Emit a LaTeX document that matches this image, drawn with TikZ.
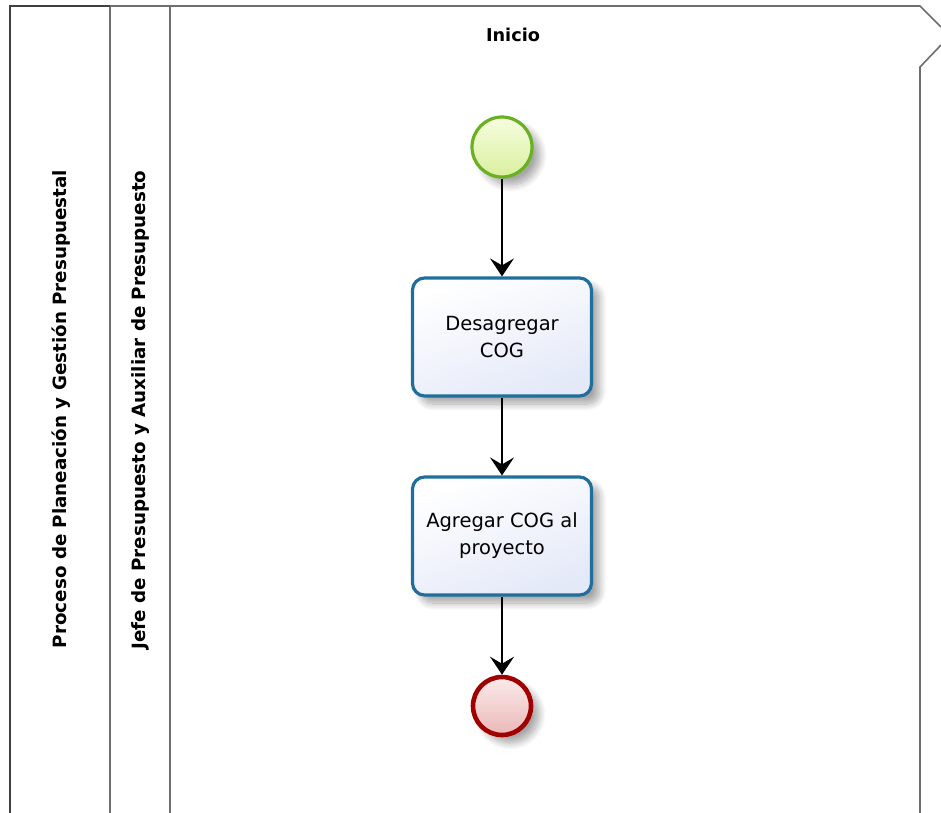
\documentclass[tikz,border=0pt]{standalone}
\usepackage{fontspec}
\setmainfont{DejaVu Sans}
\usetikzlibrary{shadows.blur,arrows.meta}

\definecolor{poolline}{HTML}{6E6E6E}
\definecolor{taskborder}{HTML}{1F6E9C}
\definecolor{taskfillA}{HTML}{FFFFFF}
\definecolor{taskfillB}{HTML}{E4E9F8}
\definecolor{startborder}{HTML}{6AB023}
\definecolor{startfillA}{HTML}{F6FDE0}
\definecolor{startfillB}{HTML}{D9F09E}
\definecolor{endborder}{HTML}{A00000}
\definecolor{endfillA}{HTML}{FBEAEA}
\definecolor{endfillB}{HTML}{EBB8B8}

\tikzset{
  x=1pt, y=-1pt,
  pool/.style={draw=poolline, line width=1.6pt},
  lanelabel/.style={rotate=90, font=\bfseries\fontsize{18.3}{22}\selectfont, inner sep=0pt},
  softshadow/.style={blur shadow={shadow xshift=8pt, shadow yshift=-8pt, shadow blur steps=10,
    shadow blur radius=7pt, shadow opacity=35}},
  task/.style={draw=taskborder, line width=3.2pt, rounded corners=12pt,
    minimum width=179pt, minimum height=118pt, align=center,
    top color=taskfillA, bottom color=taskfillB, shading angle=20,
    font=\fontsize{19.5}{27}\selectfont, softshadow},
  startevt/.style={circle, draw=startborder, line width=3.2pt, minimum size=60pt, inner sep=0pt,
    top color=startfillA, bottom color=startfillB, softshadow},
  endevt/.style={circle, draw=endborder, line width=4.6pt, minimum size=58pt, inner sep=0pt,
    top color=endfillA, bottom color=endfillB, softshadow},
  flow/.style={draw=black, line width=1.8pt, -{Stealth[length=18pt,width=24pt,inset=7pt]}}
}

\begin{document}
\begin{tikzpicture}
  \useasboundingbox (0,0) rectangle (941,812);

  % pool outline with the phase header notch on the right
  \draw[pool] (10,830) -- (10,6) -- (920,6) -- (941,27);
  \draw[pool] (941,45) -- (920,67) -- (920,830);
  \draw[pool] (110,6) -- (110,830);
  \draw[pool] (170,6) -- (170,830);
  \draw[pool, line width=2.2pt, draw=black!75] (10,830) -- (10,6) -- (110,6);

  % pool and lane titles
  \node[lanelabel] (pooltitle) at (61,409) {Proceso de Planeación y Gestión Presupuestal};
  \node[lanelabel] (lanetitle) at (141,410) {Jefe de Presupuesto y Auxiliar de Presupuesto};
  \node[font=\bfseries\fontsize{17.7}{20}\selectfont] (phase) at (513,35) {Inicio};

  % flow elements
  \node[startevt] (start) at (502,147) {};
  \node[task] (t1) at (502,337) {Desagregar\\COG};
  \node[task] (t2) at (502,536) {Agregar COG al\\proyecto};
  \node[endevt] (stop) at (502,706) {};

  % sequence flows
  \draw[flow] (start) -- (t1);
  \draw[flow] (t1) -- (t2);
  \draw[flow] (t2) -- (stop);
\end{tikzpicture}
\end{document}
